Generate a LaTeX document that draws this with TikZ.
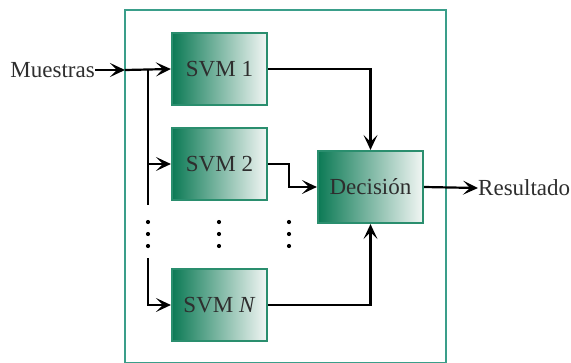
\documentclass[tikz,border=0pt]{standalone}
\usepackage{fontspec}
\setmainfont{Liberation Serif}
\usetikzlibrary{arrows.meta}
\definecolor{frameteal}{HTML}{3A9E8A}
\definecolor{boxedge}{HTML}{2A8E6E}
\definecolor{boxdark}{HTML}{0C7A55}
\definecolor{boxlight}{HTML}{F2F6F4}
\definecolor{inkgray}{HTML}{2E2E2E}
\tikzset{
  svmbox/.style={draw=boxedge, line width=2.2pt, left color=boxdark, right color=boxlight,
    minimum width=95pt, minimum height=72pt, inner sep=0pt, text=inkgray,
    font=\fontsize{23}{25}\selectfont},
  lbl/.style={text=inkgray, inner sep=0pt, font=\fontsize{23}{25}\selectfont},
  wire/.style={line width=2.2pt, black},
  arr/.style={wire, -{Stealth[length=15pt,width=14pt,inset=7pt]}},
  dotcol/.style={circle, fill=black, inner sep=0pt, minimum size=4.2pt}
}
\begin{document}
\begin{tikzpicture}[x=1pt,y=-1pt]
\useasboundingbox (0,0) rectangle (571,362);
\fill[white] (0,0) rectangle (571,362);
% outer frame
\draw[frameteal, line width=2.2pt] (125,10) rectangle (446,363);
% blocks
\node[svmbox] (s1) at (219.5,69) {SVM 1};
\node[svmbox] (s2) at (219.5,164) {SVM 2};
\node[svmbox] (sn) at (219.5,305) {SVM \textit{N}};
\node[svmbox, minimum width=105pt] (dec) at (370.5,187) {Decisión};
% labels
\node[lbl, anchor=east] (min) at (95,70) {Muestras};
\node[lbl, anchor=west] (res) at (478,188) {Resultado};
% input distribution
\coordinate (fin) at (125,70);
\coordinate (split) at (148,70);
\coordinate (b1) at (148,205);
\coordinate (b2) at (148,258);
\draw[arr] (min.east) -- (fin);
\draw[arr] (fin) -- (s1.west);
\draw[wire] (split) -- (b1);
\draw[arr] (split |- s2.west) -- (s2.west);
\draw[arr] (b2) |- (sn.west);
% outputs to decision
\draw[arr] (s1.east) -| (dec.north);
\draw[arr] (s2.east) -- (289,164) |- (dec.west);
\draw[arr] (sn.east) -| (dec.south);
\draw[arr] (dec.east) -- (res.west);
% ellipsis dots
\foreach \x/\n in {148/a,219/b,289/c}{
  \node[dotcol] (d\n1) at (\x,222) {};
  \node[dotcol] (d\n2) at (\x,234) {};
  \node[dotcol] (d\n3) at (\x,246) {};
}
\end{tikzpicture}
\end{document}
